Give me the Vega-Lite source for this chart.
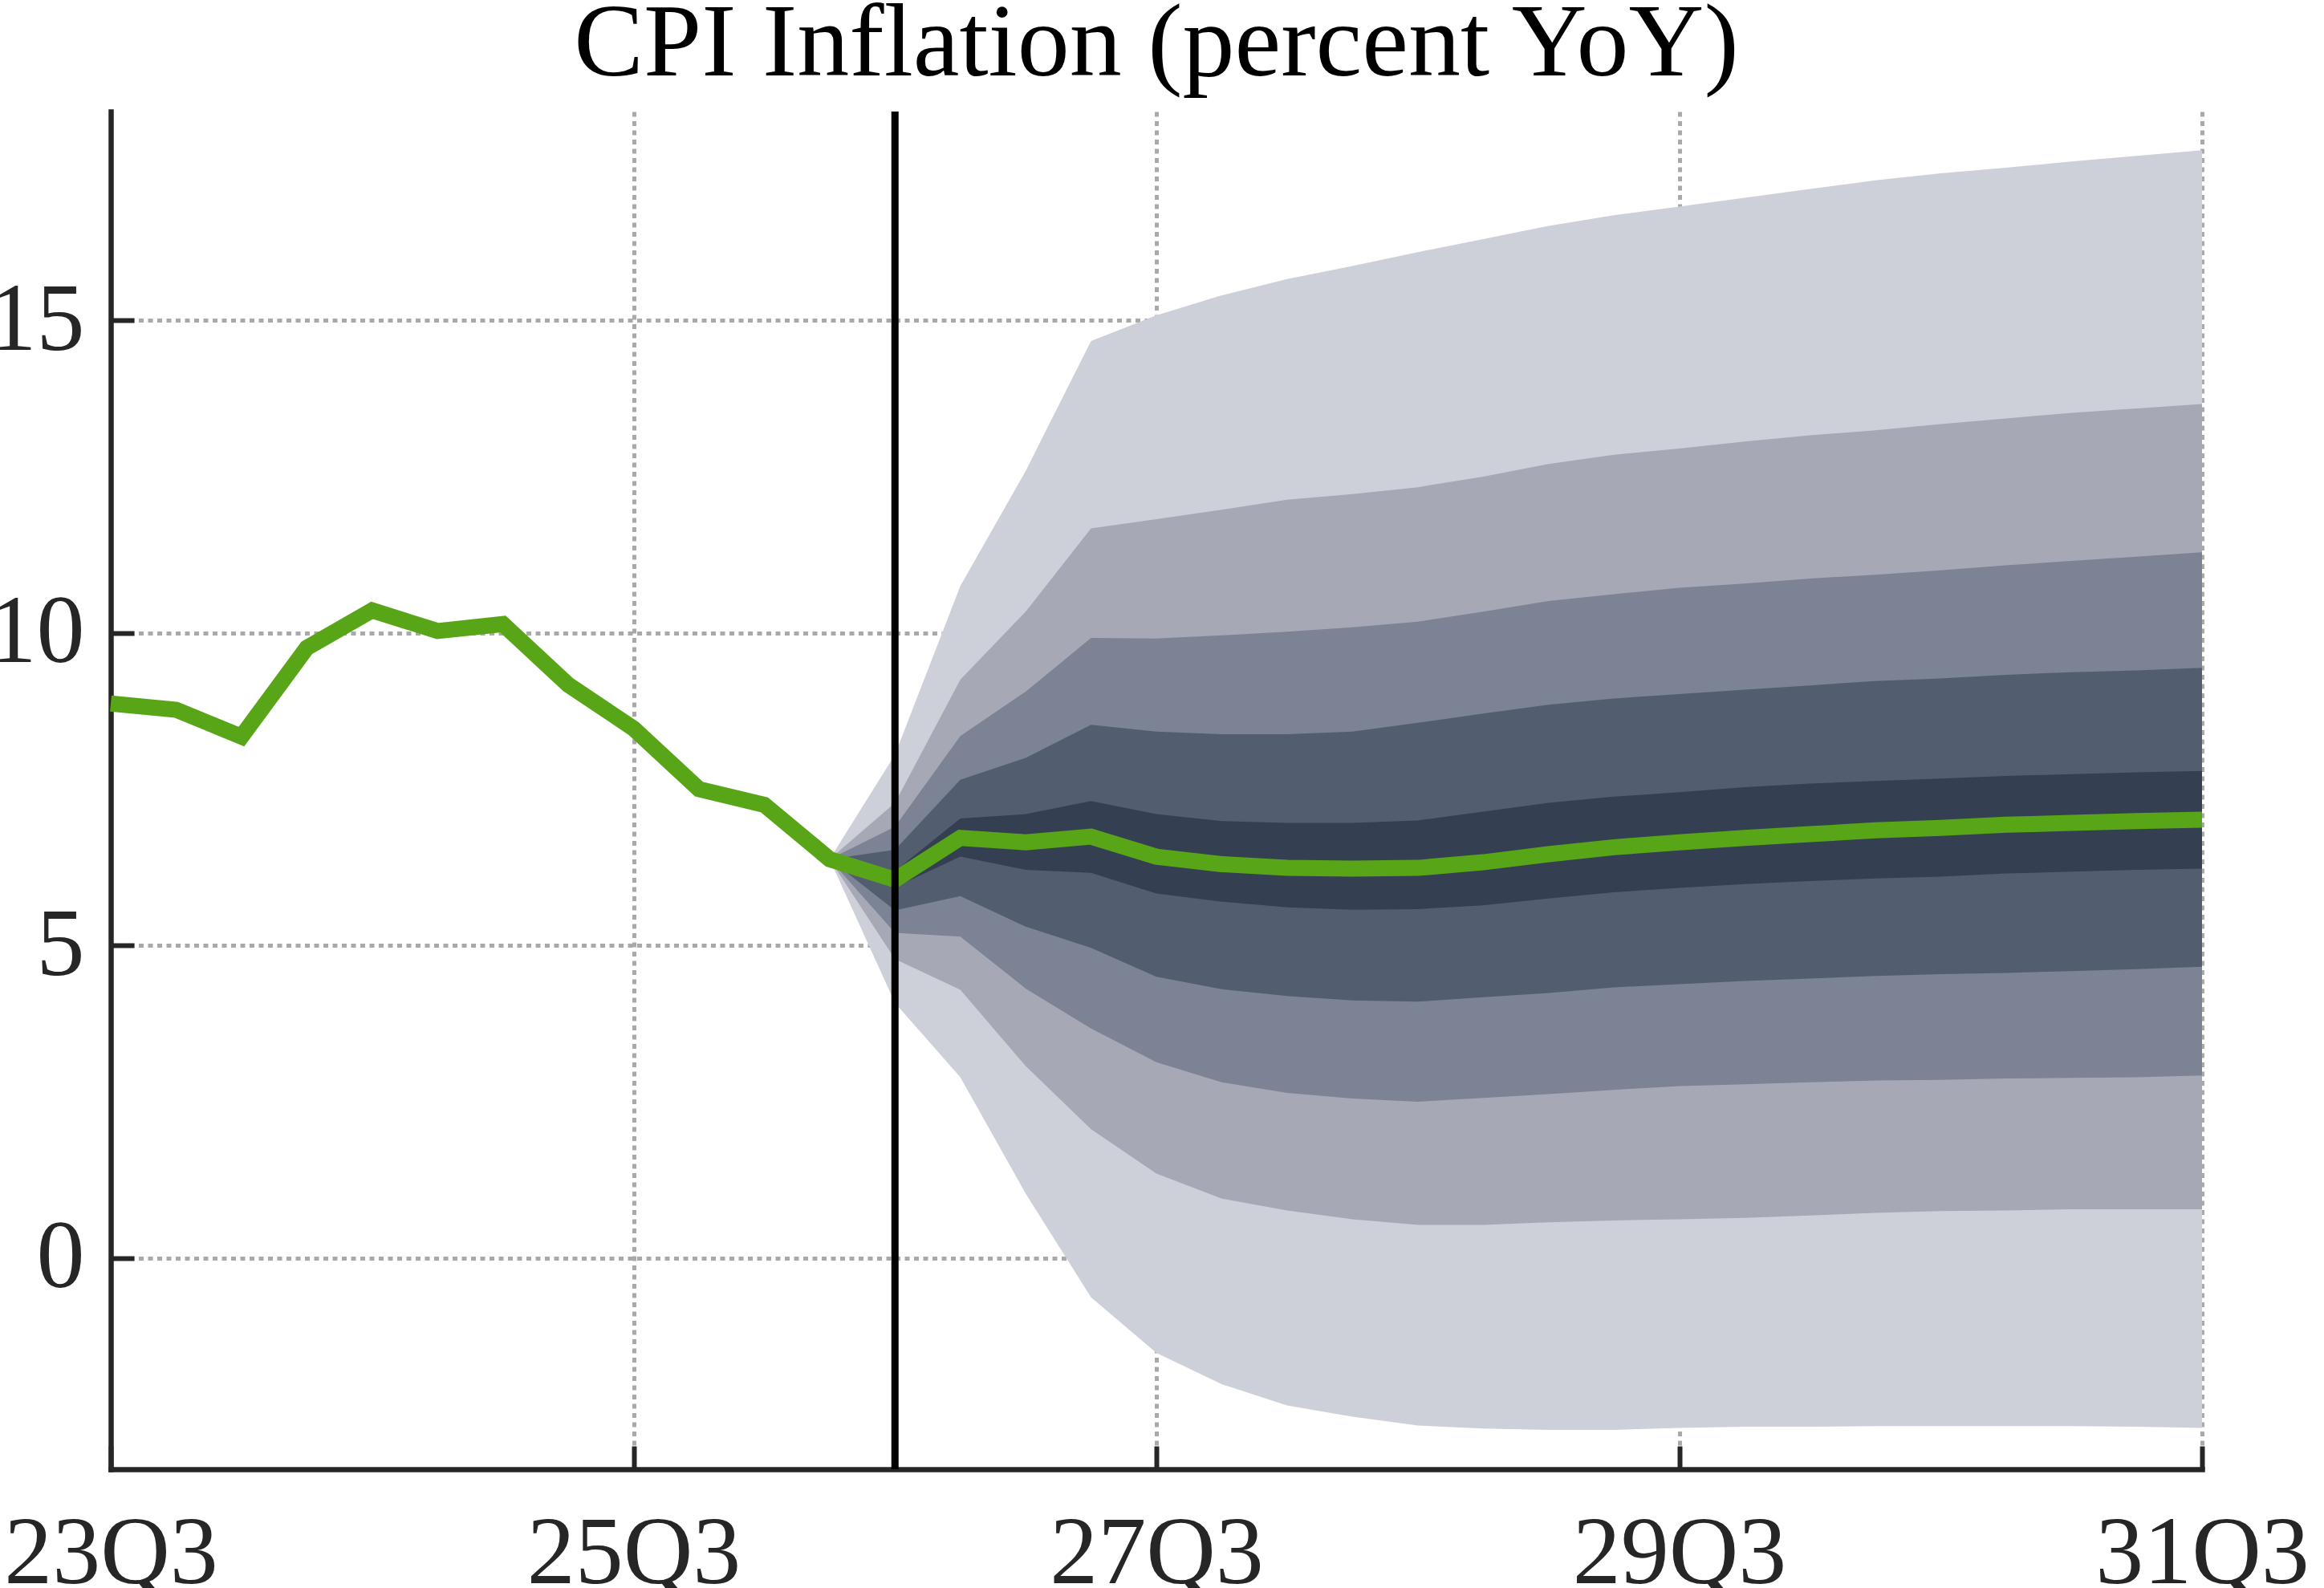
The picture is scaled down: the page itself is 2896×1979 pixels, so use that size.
{
  "$schema": "https://vega.github.io/schema/vega-lite/v6.json",
  "autosize": {"type": "none"},
  "width": 2606,
  "height": 1692,
  "padding": {"left": 138, "top": 139, "right": 152, "bottom": 148},
  "background": "white",
  "title": {
    "text": "CPI Inflation (percent YoY)",
    "font": "Liberation Serif",
    "fontSize": 130,
    "fontWeight": "normal",
    "color": "#000000",
    "anchor": "middle",
    "frame": "group",
    "offset": 14
  },
  "datasets": {
    "cpi": [
      {"q": "23Q3", "value": 8.87},
      {"q": "23Q4", "value": 8.77},
      {"q": "24Q1", "value": 8.34},
      {"q": "24Q2", "value": 9.76},
      {"q": "24Q3", "value": 10.36},
      {"q": "24Q4", "value": 10.03},
      {"q": "25Q1", "value": 10.14},
      {"q": "25Q2", "value": 9.17},
      {"q": "25Q3", "value": 8.47},
      {"q": "25Q4", "value": 7.5},
      {"q": "26Q1", "value": 7.25},
      {"q": "26Q2", "value": 6.38},
      {"q": "26Q3", "value": 6.05},
      {"q": "26Q4", "value": 6.72},
      {"q": "27Q1", "value": 6.65},
      {"q": "27Q2", "value": 6.74},
      {"q": "27Q3", "value": 6.42},
      {"q": "27Q4", "value": 6.3},
      {"q": "28Q1", "value": 6.24},
      {"q": "28Q2", "value": 6.23},
      {"q": "28Q3", "value": 6.24},
      {"q": "28Q4", "value": 6.33},
      {"q": "29Q1", "value": 6.46},
      {"q": "29Q2", "value": 6.57},
      {"q": "29Q3", "value": 6.65},
      {"q": "29Q4", "value": 6.72},
      {"q": "30Q1", "value": 6.78},
      {"q": "30Q2", "value": 6.84},
      {"q": "30Q3", "value": 6.88},
      {"q": "30Q4", "value": 6.93},
      {"q": "31Q1", "value": 6.96},
      {"q": "31Q2", "value": 6.99},
      {"q": "31Q3", "value": 7.01}
    ],
    "fan": [
      {"q": "26Q2", "o_hi": 6.38, "b2_hi": 6.38, "b3_hi": 6.38, "b4_hi": 6.38, "b5_hi": 6.38, "b5_lo": 6.38, "b4_lo": 6.38, "b3_lo": 6.38, "b2_lo": 6.38, "o_lo": 6.38},
      {"q": "26Q3", "o_hi": 8.05, "b2_hi": 7.28, "b3_hi": 6.9, "b4_hi": 6.53, "b5_hi": 6.19, "b5_lo": 5.93, "b4_lo": 5.56, "b3_lo": 5.2, "b2_lo": 4.78, "o_lo": 4.08},
      {"q": "26Q4", "o_hi": 10.75, "b2_hi": 9.25, "b3_hi": 8.35, "b4_hi": 7.65, "b5_hi": 7.03, "b5_lo": 6.42, "b4_lo": 5.79, "b3_lo": 5.14, "b2_lo": 4.29, "o_lo": 2.89},
      {"q": "27Q1", "o_hi": 12.59, "b2_hi": 10.34, "b3_hi": 9.06, "b4_hi": 8.0, "b5_hi": 7.1, "b5_lo": 6.21, "b4_lo": 5.3, "b3_lo": 4.31, "b2_lo": 3.07, "o_lo": 1.03},
      {"q": "27Q2", "o_hi": 14.67, "b2_hi": 11.67, "b3_hi": 9.92, "b4_hi": 8.53, "b5_hi": 7.31, "b5_lo": 6.16, "b4_lo": 4.96, "b3_lo": 3.67, "b2_lo": 2.06, "o_lo": -0.63},
      {"q": "27Q3", "o_hi": 15.08, "b2_hi": 11.82, "b3_hi": 9.91, "b4_hi": 8.42, "b5_hi": 7.1, "b5_lo": 5.83, "b4_lo": 4.5, "b3_lo": 3.13, "b2_lo": 1.35, "o_lo": -1.52},
      {"q": "27Q4", "o_hi": 15.4, "b2_hi": 11.97, "b3_hi": 9.96, "b4_hi": 8.38, "b5_hi": 6.99, "b5_lo": 5.7, "b4_lo": 4.3, "b3_lo": 2.81, "b2_lo": 0.95, "o_lo": -2.02},
      {"q": "28Q1", "o_hi": 15.66, "b2_hi": 12.13, "b3_hi": 10.02, "b4_hi": 8.38, "b5_hi": 6.96, "b5_lo": 5.61, "b4_lo": 4.19, "b3_lo": 2.64, "b2_lo": 0.76, "o_lo": -2.36},
      {"q": "28Q2", "o_hi": 15.87, "b2_hi": 12.22, "b3_hi": 10.09, "b4_hi": 8.42, "b5_hi": 6.96, "b5_lo": 5.57, "b4_lo": 4.12, "b3_lo": 2.55, "b2_lo": 0.62, "o_lo": -2.54},
      {"q": "28Q3", "o_hi": 16.09, "b2_hi": 12.33, "b3_hi": 10.18, "b4_hi": 8.56, "b5_hi": 7.0, "b5_lo": 5.58, "b4_lo": 4.1, "b3_lo": 2.5, "b2_lo": 0.53, "o_lo": -2.68},
      {"q": "28Q4", "o_hi": 16.3, "b2_hi": 12.5, "b3_hi": 10.34, "b4_hi": 8.71, "b5_hi": 7.14, "b5_lo": 5.64, "b4_lo": 4.17, "b3_lo": 2.56, "b2_lo": 0.53, "o_lo": -2.73},
      {"q": "29Q1", "o_hi": 16.51, "b2_hi": 12.7, "b3_hi": 10.51, "b4_hi": 8.85, "b5_hi": 7.28, "b5_lo": 5.75, "b4_lo": 4.24, "b3_lo": 2.62, "b2_lo": 0.57, "o_lo": -2.75},
      {"q": "29Q2", "o_hi": 16.68, "b2_hi": 12.85, "b3_hi": 10.62, "b4_hi": 8.95, "b5_hi": 7.38, "b5_lo": 5.85, "b4_lo": 4.33, "b3_lo": 2.69, "b2_lo": 0.6, "o_lo": -2.75},
      {"q": "29Q3", "o_hi": 16.82, "b2_hi": 12.95, "b3_hi": 10.72, "b4_hi": 9.02, "b5_hi": 7.45, "b5_lo": 5.92, "b4_lo": 4.38, "b3_lo": 2.75, "b2_lo": 0.62, "o_lo": -2.72},
      {"q": "29Q4", "o_hi": 16.96, "b2_hi": 13.06, "b3_hi": 10.79, "b4_hi": 9.09, "b5_hi": 7.53, "b5_lo": 5.98, "b4_lo": 4.43, "b3_lo": 2.78, "b2_lo": 0.64, "o_lo": -2.7},
      {"q": "30Q1", "o_hi": 17.1, "b2_hi": 13.16, "b3_hi": 10.87, "b4_hi": 9.16, "b5_hi": 7.59, "b5_lo": 6.03, "b4_lo": 4.47, "b3_lo": 2.81, "b2_lo": 0.68, "o_lo": -2.7},
      {"q": "30Q2", "o_hi": 17.24, "b2_hi": 13.24, "b3_hi": 10.93, "b4_hi": 9.23, "b5_hi": 7.63, "b5_lo": 6.07, "b4_lo": 4.51, "b3_lo": 2.84, "b2_lo": 0.72, "o_lo": -2.69},
      {"q": "30Q3", "o_hi": 17.35, "b2_hi": 13.34, "b3_hi": 11.0, "b4_hi": 9.27, "b5_hi": 7.67, "b5_lo": 6.1, "b4_lo": 4.54, "b3_lo": 2.85, "b2_lo": 0.75, "o_lo": -2.69},
      {"q": "30Q4", "o_hi": 17.44, "b2_hi": 13.43, "b3_hi": 11.08, "b4_hi": 9.33, "b5_hi": 7.71, "b5_lo": 6.15, "b4_lo": 4.56, "b3_lo": 2.87, "b2_lo": 0.76, "o_lo": -2.69},
      {"q": "31Q1", "o_hi": 17.54, "b2_hi": 13.52, "b3_hi": 11.15, "b4_hi": 9.37, "b5_hi": 7.74, "b5_lo": 6.18, "b4_lo": 4.59, "b3_lo": 2.88, "b2_lo": 0.78, "o_lo": -2.69},
      {"q": "31Q2", "o_hi": 17.63, "b2_hi": 13.59, "b3_hi": 11.22, "b4_hi": 9.4, "b5_hi": 7.77, "b5_lo": 6.21, "b4_lo": 4.62, "b3_lo": 2.89, "b2_lo": 0.78, "o_lo": -2.7},
      {"q": "31Q3", "o_hi": 17.72, "b2_hi": 13.66, "b3_hi": 11.29, "b4_hi": 9.44, "b5_hi": 7.79, "b5_lo": 6.23, "b4_lo": 4.66, "b3_lo": 2.92, "b2_lo": 0.78, "o_lo": -2.72}
    ],
    "marker": [{"q": "26Q3"}]
  },
  "encoding": {
    "x": {
      "field": "q",
      "type": "ordinal",
      "scale": {
        "type": "point",
        "padding": 0,
        "domain": ["23Q3", "23Q4", "24Q1", "24Q2", "24Q3", "24Q4", "25Q1", "25Q2", "25Q3", "25Q4", "26Q1", "26Q2", "26Q3", "26Q4", "27Q1", "27Q2", "27Q3", "27Q4", "28Q1", "28Q2", "28Q3", "28Q4", "29Q1", "29Q2", "29Q3", "29Q4", "30Q1", "30Q2", "30Q3", "30Q4", "31Q1", "31Q2", "31Q3"]
      },
      "axis": {"values": ["23Q3", "25Q3", "27Q3", "29Q3", "31Q3"], "title": null}
    }
  },
  "layer": [
    {
      "data": {"name": "fan"},
      "mark": {"type": "area", "color": "#cdd0d9"},
      "encoding": {
        "y": {"field": "o_hi", "type": "quantitative", "scale": {"domain": [-3.38, 18.34], "nice": false, "zero": false}, "axis": {"values": [0, 5, 10, 15], "title": null}},
        "y2": {"field": "o_lo"}
      }
    },
    {
      "data": {"name": "fan"},
      "mark": {"type": "area", "color": "#a6a9b5"},
      "encoding": {
        "y": {"field": "b2_hi", "type": "quantitative", "axis": {"values": [0, 5, 10, 15], "title": null}},
        "y2": {"field": "b2_lo"}
      }
    },
    {
      "data": {"name": "fan"},
      "mark": {"type": "area", "color": "#7b8394"},
      "encoding": {
        "y": {"field": "b3_hi", "type": "quantitative", "axis": {"values": [0, 5, 10, 15], "title": null}},
        "y2": {"field": "b3_lo"}
      }
    },
    {
      "data": {"name": "fan"},
      "mark": {"type": "area", "color": "#525e70"},
      "encoding": {
        "y": {"field": "b4_hi", "type": "quantitative", "axis": {"values": [0, 5, 10, 15], "title": null}},
        "y2": {"field": "b4_lo"}
      }
    },
    {
      "data": {"name": "fan"},
      "mark": {"type": "area", "color": "#344052"},
      "encoding": {
        "y": {"field": "b5_hi", "type": "quantitative", "axis": {"values": [0, 5, 10, 15], "title": null}},
        "y2": {"field": "b5_lo"}
      }
    },
    {
      "data": {"name": "cpi"},
      "mark": {"type": "line", "color": "#58a618", "strokeWidth": 20, "strokeJoin": "miter", "strokeCap": "butt"},
      "encoding": {
        "y": {"field": "value", "type": "quantitative", "axis": {"values": [0, 5, 10, 15], "title": null}}
      }
    },
    {
      "data": {"name": "marker"},
      "mark": {"type": "rule", "color": "#000000", "strokeWidth": 9},
      "encoding": {}
    }
  ],
  "config": {
    "view": {"stroke": null},
    "font": "Liberation Serif",
    "axis": {
      "labelFont": "Liberation Serif",
      "labelFontSize": 120,
      "labelColor": "#262626",
      "labelFlush": false,
      "labelOverlap": false,
      "labelBound": false,
      "labelLimit": 0,
      "domainColor": "#262626",
      "domainWidth": 6.5,
      "domainCap": "square",
      "tickColor": "#262626",
      "tickWidth": 6,
      "tickSize": -29,
      "grid": true,
      "gridColor": "#a9a9a9",
      "gridDash": [6, 5.5],
      "gridWidth": 5,
      "gridOpacity": 1
    },
    "axisX": {"labelPadding": 75, "labelAngle": 0},
    "axisY": {"labelPadding": 62}
  }
}
